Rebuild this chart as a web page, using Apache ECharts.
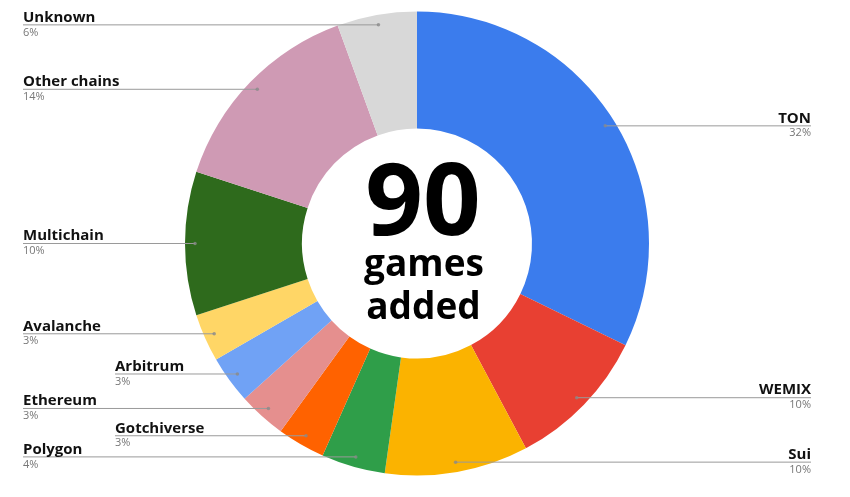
<!DOCTYPE html>
<html><head><meta charset="utf-8">
<script src="https://cdn.jsdelivr.net/npm/echarts@6/dist/echarts.min.js"></script>
<style>html,body{margin:0;padding:0;background:#fff}#c{width:850px;height:497px}</style>
</head><body><div id="c"></div>
<script>
// ---- data ----
const categories = ['TON','WEMIX','Sui','Polygon','Gotchiverse','Ethereum','Arbitrum','Avalanche','Multichain','Other chains','Unknown'];
const gameCounts = [29, 9, 9, 4, 3, 3, 3, 3, 9, 13, 5];
const sliceColors = ['#3b7ced','#e84032','#fbb300','#2f9e49','#ff6200','#e58f8e','#70a2f5','#ffd666','#2e6a1c','#cf9ab4','#d8d8d8'];
const totalGames = '90';
const centerWords = ['games', 'added'];

// ---- layout constants ----
const CX = 417, CY = 243.5, R_OUT = 232, R_IN = 115, DOT_R = 222;
const indentedLabels = { 'Arbitrum': true, 'Gotchiverse': true };
const FONT = '"Open Sans", "Noto Sans", sans-serif';

// guide-line start dots: middle of each slice (cumulative count), placed by the polar scales
const sumCounts = gameCounts.reduce((a, b) => a + b, 0);
let acc = 0;
const dotData = gameCounts.map(v => { const mid = acc + v / 2; acc += v; return [DOT_R, mid]; });

const chart = echarts.init(document.getElementById('c'), null, { renderer: 'canvas' });
chart.setOption({
  animation: false,
  backgroundColor: '#fff',
  polar: { center: [CX, CY], radius: [0, R_OUT] },
  angleAxis: { type: 'value', min: 0, max: sumCounts, startAngle: 90, clockwise: true, show: false },
  radiusAxis: { type: 'value', min: 0, max: R_OUT, show: false },
  graphic: [
    { type: 'text', x: 423, y: 206, z: 100, style: { text: totalGames, font: 'bold 101px ' + FONT, fill: '#000', align: 'center', verticalAlign: 'middle' } },
    { type: 'text', x: 424, y: 265, z: 100, style: { text: centerWords[0], font: 'bold 37px ' + FONT, fill: '#000', align: 'center', verticalAlign: 'middle' } },
    { type: 'text', x: 423.5, y: 308, z: 100, style: { text: centerWords[1], font: 'bold 37px ' + FONT, fill: '#000', align: 'center', verticalAlign: 'middle' } }
  ],
  series: [{
    type: 'pie',
    z: 2,
    center: [CX, CY],
    radius: [R_IN, R_OUT],
    startAngle: 90,
    clockwise: true,
    silent: true,
    itemStyle: { borderWidth: 0 },
    emphasis: { disabled: true },
    data: categories.map((n, i) => ({ name: n, value: gameCounts[i], itemStyle: { color: sliceColors[i] } })),
    label: { show: false },
    labelLine: { show: false }
  }, {
    // same slices, transparent, only carrying labels + guide lines above the ring
    type: 'pie',
    z: 5,
    center: [CX, CY],
    radius: [R_IN, R_OUT],
    startAngle: 90,
    clockwise: true,
    silent: true,
    avoidLabelOverlap: false,
    itemStyle: { borderWidth: 0, color: 'rgba(0,0,0,0)' },
    emphasis: { disabled: true },
    data: categories.map((n, i) => ({ name: n, value: gameCounts[i] })),
    label: {
      show: true,
      position: 'outside',
      formatter: p => '{n|' + p.name + '}\n{p|' + Math.round(p.percent) + '%}',
      rich: {
        n: { fontFamily: FONT, fontWeight: 'bold', fontSize: 15, color: '#111', lineHeight: 15 },
        p: { fontFamily: FONT, fontSize: 11, color: '#777', lineHeight: 15 }
      }
    },
    labelLine: { show: true, length: 10, length2: 10, lineStyle: { color: '#9a9a9a', width: 1 } },
    labelLayout: function (params) {
      const i = params.dataIndex;
      const p0 = params.labelLinePoints[0];
      const dx = p0[0] - CX, dy = p0[1] - CY;
      const len = Math.hypot(dx, dy) || 1;
      const x = CX + dx / len * DOT_R;
      const y = CY + dy / len * DOT_R;
      const left = x < CX;
      const lx = left ? (indentedLabels[categories[i]] ? 115 : 23) : 811;
      return {
        x: lx, y: y, align: left ? 'left' : 'right', verticalAlign: 'middle',
        labelLinePoints: [[x, y], [x, y], [lx, y]]
      };
    }
  }, {
    type: 'scatter',
    coordinateSystem: 'polar',
    z: 6,
    silent: true,
    symbol: 'circle',
    symbolSize: 3.5,
    itemStyle: { color: '#8a8a8a' },
    data: dotData
  }]
});
</script></body></html>
